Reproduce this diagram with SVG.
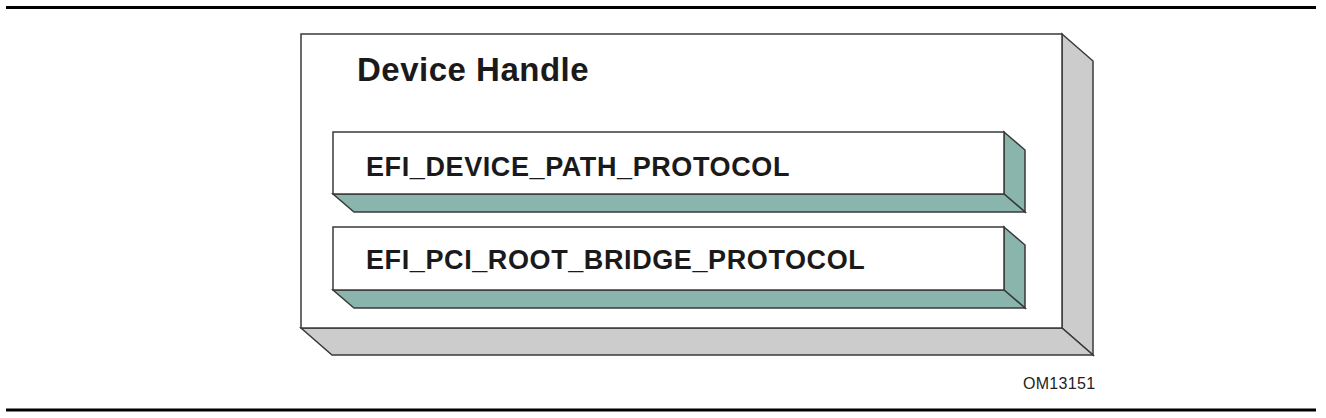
<svg xmlns="http://www.w3.org/2000/svg" width="1326" height="418" viewBox="0 0 1326 418">
<style>
.edge{stroke:#3a3a3a;stroke-width:1.5;stroke-linejoin:miter}
.front{fill:#ffffff}
.grey{fill:#cccccc}
.teal{fill:#8ab5ad}
.rule{stroke:#000;stroke-width:3}
text{font-family:"Liberation Sans",Arial,sans-serif;fill:#1a1a1a}
.title{font-size:33px;font-weight:bold;letter-spacing:0.5px}
.proto{font-size:27px;font-weight:bold;letter-spacing:0.6px}
.ref{font-size:16px;letter-spacing:0.3px;fill:#222}
</style>
<rect width="1326" height="418" fill="#fff"/>
<line class="rule" x1="6" y1="7.5" x2="1316" y2="7.5"/>
<line class="rule" x1="6" y1="410" x2="1316" y2="410"/>
<g id="device-handle">
<polygon class="grey edge" points="1062,34 1093,61 1093,355 1062,328"/>
<polygon class="grey edge" points="301,328 1062,328 1093,355 332,355"/>
<rect class="front edge" x="301" y="34" width="761" height="294"/>
<text class="title" x="357" y="81">Device Handle</text>
</g>
<g id="efi-device-path-protocol">
<polygon class="teal edge" points="1004,132 1025,150 1025,212 1004,194"/>
<polygon class="teal edge" points="333,194 1004,194 1025,212 354,212"/>
<rect class="front edge" x="333" y="132" width="671" height="62"/>
<text class="proto" x="366" y="176">EFI_DEVICE_PATH_PROTOCOL</text>
</g>
<g id="efi-pci-root-bridge-protocol">
<polygon class="teal edge" points="1004,227 1025,245 1025,308 1004,290"/>
<polygon class="teal edge" points="333,290 1004,290 1025,308 354,308"/>
<rect class="front edge" x="333" y="227" width="671" height="63"/>
<text class="proto" x="366" y="269">EFI_PCI_ROOT_BRIDGE_PROTOCOL</text>
</g>
<g id="connectors"></g>
<text class="ref" x="1023" y="389">OM13151</text>
</svg>
